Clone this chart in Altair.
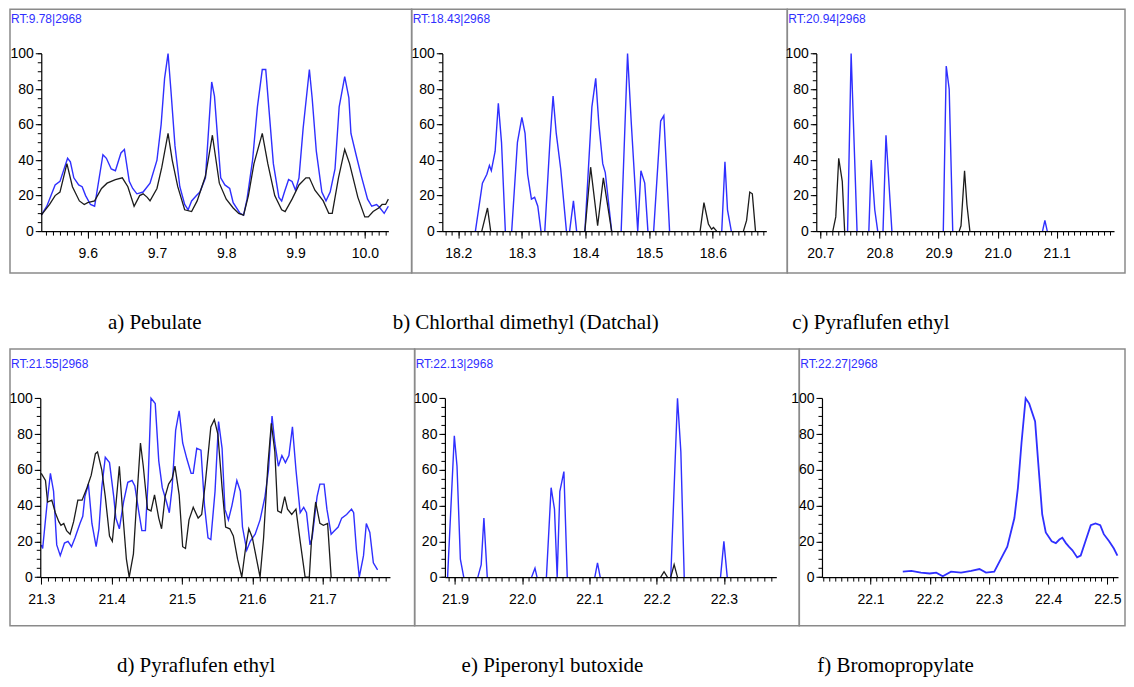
import math
import altair as alt
import pandas as pd

# ---------------- data (retention time, relative abundance %) ----------------
a_blue = [(9.533, 9), (9.541, 14), (9.553, 26), (9.560, 28), (9.571, 41), (9.575, 39), (9.580, 30),
          (9.587, 26), (9.592, 25), (9.597, 20), (9.604, 15), (9.610, 14), (9.622, 43), (9.627, 41),
          (9.634, 35), (9.640, 34), (9.648, 44), (9.653, 46), (9.660, 28), (9.665, 24), (9.671, 21),
          (9.680, 22), (9.690, 27), (9.700, 40), (9.706, 60), (9.711, 86), (9.716, 100), (9.720, 80),
          (9.726, 48), (9.733, 25), (9.740, 15), (9.745, 12), (9.750, 17), (9.757, 20), (9.762, 22),
          (9.770, 30), (9.775, 60), (9.779, 84), (9.783, 76), (9.788, 50), (9.792, 30), (9.798, 26),
          (9.805, 24), (9.810, 16), (9.820, 10), (9.825, 9), (9.830, 18), (9.838, 40), (9.845, 70),
          (9.852, 91), (9.857, 91), (9.862, 67), (9.868, 38), (9.876, 19), (9.880, 17), (9.884, 22),
          (9.890, 29), (9.895, 28), (9.900, 23), (9.905, 30), (9.911, 58), (9.920, 91), (9.924, 75),
          (9.930, 45), (9.938, 22), (9.944, 17), (9.950, 22), (9.957, 35), (9.963, 70), (9.971, 87),
          (9.977, 75), (9.980, 55), (9.988, 42), (9.995, 31), (10.004, 18), (10.010, 14), (10.017, 15),
          (10.022, 13), (10.028, 10), (10.034, 14)]
a_black = [(9.533, 9), (9.545, 15), (9.553, 20), (9.560, 22), (9.570, 38), (9.578, 25), (9.588, 17),
           (9.595, 15), (9.600, 16), (9.610, 17), (9.620, 24), (9.628, 27), (9.640, 29), (9.650, 30),
           (9.658, 25), (9.667, 14), (9.675, 20), (9.680, 21), (9.686, 19), (9.690, 17), (9.700, 24),
           (9.707, 36), (9.716, 55), (9.722, 40), (9.730, 25), (9.740, 12), (9.750, 11), (9.758, 17),
           (9.770, 31), (9.780, 54), (9.790, 27), (9.800, 18), (9.810, 13), (9.818, 10), (9.825, 9),
           (9.832, 20), (9.840, 38), (9.852, 55), (9.860, 38), (9.870, 20), (9.880, 12), (9.885, 11),
           (9.895, 18), (9.905, 26), (9.915, 30), (9.920, 30), (9.928, 23), (9.940, 17), (9.948, 10),
           (9.953, 10), (9.962, 30), (9.971, 46), (9.978, 38), (9.990, 19), (10.000, 8), (10.005, 8),
           (10.012, 11), (10.020, 13), (10.025, 15), (10.030, 15), (10.034, 18)]

b_blue = [
    [(18.227, 0), (18.238, 27), (18.245, 32), (18.249, 37), (18.252, 34), (18.258, 45), (18.263, 72), (18.268, 50), (18.274, 0)],
    [(18.284, 0), (18.293, 50), (18.300, 64), (18.305, 55), (18.309, 32), (18.315, 18), (18.320, 19), (18.325, 14), (18.330, 0)],
    [(18.336, 0), (18.344, 50), (18.349, 76), (18.354, 55), (18.361, 35), (18.370, 0)],
    [(18.375, 0), (18.381, 17), (18.386, 0)],
    [(18.399, 0), (18.410, 70), (18.416, 86), (18.421, 60), (18.427, 38), (18.431, 33), (18.441, 0)],
    [(18.456, 0), (18.466, 100), (18.472, 60), (18.482, 0), (18.487, 34), (18.493, 27), (18.498, 0)],
    [(18.507, 0), (18.518, 62), (18.523, 65), (18.532, 0)],
    [(18.614, 0), (18.619, 39), (18.623, 12), (18.629, 0)],
]
b_black = [
    [(18.237, 0), (18.246, 13), (18.251, 0)],
    [(18.399, 0), (18.408, 36), (18.419, 3), (18.428, 30), (18.441, 0)],
    [(18.580, 0), (18.586, 16), (18.593, 4), (18.598, 1), (18.601, 2), (18.606, 0)],
    [(18.648, 0), (18.653, 6), (18.658, 22), (18.662, 21), (18.667, 0)],
]

c_blue = [
    [(20.746, 0), (20.752, 100), (20.762, 0)],
    [(20.782, 0), (20.786, 40), (20.792, 12), (20.797, 0)],
    [(20.806, 0), (20.811, 54), (20.821, 0)],
    [(20.908, 0), (20.913, 93), (20.918, 80), (20.924, 0)],
    [(21.076, 0), (21.080, 6), (21.084, 0)],
]
c_black = [
    [(20.721, 0), (20.726, 8), (20.731, 41), (20.737, 28), (20.741, 0)],
    [(20.935, 0), (20.938, 3), (20.944, 34), (20.948, 15), (20.953, 0)],
]

d_blue = [(21.300, 18), (21.302, 16), (21.308, 40), (21.313, 58), (21.3175, 48), (21.322, 18), (21.327, 12),
          (21.333, 19), (21.338, 20), (21.343, 17), (21.348, 22), (21.355, 30), (21.359, 34), (21.362, 45),
          (21.367, 52), (21.372, 30), (21.378, 17), (21.382, 27), (21.386, 50), (21.391, 67), (21.397, 64),
          (21.403, 45), (21.406, 33), (21.411, 27), (21.417, 42), (21.423, 53), (21.429, 54), (21.433, 51),
          (21.438, 38), (21.443, 26), (21.448, 26), (21.452, 55), (21.456, 100), (21.462, 97), (21.467, 65),
          (21.472, 50), (21.478, 42), (21.482, 36), (21.486, 50), (21.491, 82), (21.496, 93), (21.501, 75),
          (21.507, 66), (21.513, 58), (21.516, 58), (21.521, 72), (21.527, 71), (21.532, 40), (21.537, 22),
          (21.541, 21), (21.547, 48), (21.552, 87), (21.557, 72), (21.561, 38), (21.566, 32), (21.571, 40),
          (21.578, 54), (21.583, 48), (21.586, 28), (21.592, 15), (21.597, 20), (21.604, 24), (21.611, 32),
          (21.618, 45), (21.623, 60), (21.628, 90), (21.632, 75), (21.637, 62), (21.642, 68), (21.647, 64),
          (21.652, 68), (21.657, 84), (21.662, 60), (21.668, 36), (21.673, 39), (21.677, 36), (21.682, 18),
          (21.685, 22), (21.692, 45), (21.696, 52), (21.702, 52), (21.706, 38), (21.712, 24), (21.717, 26),
          (21.722, 28), (21.727, 33), (21.734, 35), (21.741, 38), (21.744, 36), (21.748, 15), (21.752, 0),
          (21.758, 12), (21.762, 30), (21.767, 25), (21.772, 8), (21.778, 4)]
d_black = [(21.300, 58), (21.306, 54), (21.309, 42), (21.315, 43), (21.320, 36), (21.325, 31), (21.328, 29),
           (21.332, 30), (21.336, 26), (21.341, 24), (21.346, 31), (21.352, 43), (21.358, 43), (21.365, 50),
           (21.371, 57), (21.377, 69), (21.380, 70), (21.386, 60), (21.391, 45), (21.397, 23), (21.401, 20),
           (21.406, 40), (21.411, 62), (21.415, 40), (21.421, 10), (21.425, 0), (21.431, 13), (21.436, 45),
           (21.441, 75), (21.445, 62), (21.451, 38), (21.456, 37), (21.461, 46), (21.467, 33), (21.471, 27),
           (21.476, 45), (21.481, 52), (21.486, 55), (21.490, 62), (21.496, 46), (21.501, 17), (21.505, 16),
           (21.510, 32), (21.516, 39), (21.523, 33), (21.528, 35), (21.533, 52), (21.541, 84), (21.546, 88),
           (21.551, 80), (21.557, 50), (21.562, 28), (21.568, 27), (21.573, 23), (21.579, 10), (21.585, 0),
           (21.590, 15), (21.595, 27), (21.600, 22), (21.606, 10), (21.611, 0), (21.616, 22), (21.622, 62),
           (21.627, 86), (21.632, 70), (21.636, 37), (21.641, 36), (21.646, 45), (21.650, 38), (21.656, 35),
           (21.662, 38), (21.668, 20), (21.675, 0), (21.681, 0), (21.684, 20), (21.690, 42), (21.696, 30),
           (21.701, 29), (21.707, 30), (21.712, 0)]

e_blue = [
    [(21.889, 0), (21.899, 79), (21.903, 62), (21.908, 10), (21.913, 0)],
    [(21.934, 0), (21.939, 7), (21.943, 33), (21.948, 0)],
    [(22.014, 0), (22.019, 5), (22.022, 0)],
    [(22.036, 0), (22.043, 50), (22.048, 38), (22.052, 0), (22.056, 48), (22.062, 59), (22.067, 0)],
    [(22.108, 0), (22.112, 8), (22.116, 0)],
    [(22.221, 0), (22.231, 100), (22.236, 70), (22.241, 0)],
    [(22.295, 0), (22.300, 20), (22.305, 0)],
]
e_black = [
    [(22.206, 0), (22.211, 3), (22.216, 0)],
    [(22.221, 0), (22.226, 7), (22.231, 0)],
]

f_blue = [(22.1545, 3), (22.169, 3.5), (22.185, 2.5), (22.200, 2), (22.211, 2.5), (22.222, 0.5), (22.236, 3),
          (22.253, 2.5), (22.270, 3.5), (22.284, 4.5), (22.295, 2.5), (22.309, 3), (22.320, 10), (22.331, 17),
          (22.343, 33), (22.349, 50), (22.355, 75), (22.362, 100), (22.368, 97), (22.378, 87), (22.383, 65),
          (22.390, 35), (22.396, 25), (22.406, 20), (22.413, 19), (22.419, 21), (22.424, 22), (22.430, 19),
          (22.435, 17), (22.441, 15), (22.449, 11), (22.455, 12), (22.463, 20), (22.472, 29), (22.480, 30),
          (22.488, 29), (22.494, 24), (22.503, 20), (22.511, 16), (22.517, 12)]
f_black = []

rt_labels = ["RT:9.78|2968", "RT:18.43|2968", "RT:20.94|2968",
             "RT:21.55|2968", "RT:22.13|2968", "RT:22.27|2968"]
captions = ["a) Pebulate", "b) Chlorthal dimethyl (Datchal)", "c) Pyraflufen ethyl",
            "d) Pyraflufen ethyl", "e) Piperonyl butoxide", "f) Bromopropylate"]
x_domains = [[9.533, 10.034], [18.175, 18.684], [20.693, 21.197],
             [21.2986, 21.7956], [21.885, 22.378], [22.018, 22.518]]
x_major = [[9.6, 9.7, 9.8, 9.9, 10.0], [18.2, 18.3, 18.4, 18.5, 18.6], [20.7, 20.8, 20.9, 21.0, 21.1],
           [21.3, 21.4, 21.5, 21.6, 21.7], [21.9, 22.0, 22.1, 22.2, 22.3], [22.1, 22.2, 22.3, 22.4, 22.5]]
y_major = [0, 20, 40, 60, 80, 100]
y_minor_step = 5
x_minor_step = 0.01

# ---------------- styling ----------------
BLUE = "#2f2fff"
BLACK = "#1c1c1c"
AXIS_FONT = "Liberation Sans Narrow, Liberation Sans, Arial, sans-serif"
CAP_FONT = "Liberation Serif, Times New Roman, serif"
CAP_SIZE = 21


def to_df(series):
    segs = series if (series and isinstance(series[0], list)) else [series]
    rows = []
    for i, seg in enumerate(segs):
        for t, v in seg:
            rows.append({"t": t, "v": v, "seg": i})
    return pd.DataFrame(rows, columns=["t", "v", "seg"])


def minor_ticks(lo, hi, step):
    k0 = math.ceil(lo / step - 1e-6)
    k1 = math.floor(hi / step + 1e-6)
    return [round(k * step, 4) for k in range(k0, k1 + 1)]


COMMON = dict(title=None, grid=False, labelFont=AXIS_FONT, labelFontSize=14, labelColor="black",
              labelOverlap=False, labelFlush=False, domainColor="black", tickColor="black",
              domainWidth=1.2, tickWidth=1, zindex=1)


def panel(i, blue, black, width, height, xrange, ybase, ytop, cap_x, cap_y, rt_y, lw):
    dom = x_domains[i]
    xs = alt.Scale(domain=dom, range=xrange, nice=False, zero=False)
    ys = alt.Scale(domain=[0, 100], range=[ybase, ytop], nice=False, zero=False)
    x_off = -(height - ybase)
    y_off = -xrange[0]
    x_main = alt.Axis(orient="bottom", values=x_major[i], format=".1f", tickSize=7, labelPadding=8,
                      offset=x_off, **COMMON)
    y_main = alt.Axis(orient="left", values=y_major, format="d", tickSize=6, labelPadding=2,
                      offset=y_off, **COMMON)
    x_min = alt.Axis(orient="bottom", values=minor_ticks(dom[0], dom[1], x_minor_step), tickSize=4,
                     labels=False, domain=False, offset=x_off, title=None, grid=False,
                     tickColor="black", tickWidth=1, zindex=1)
    y_min = alt.Axis(orient="left", values=minor_ticks(0, 100, y_minor_step), tickSize=4,
                     labels=False, domain=False, offset=y_off, title=None, grid=False,
                     tickColor="black", tickWidth=1, zindex=1)
    blue_df = to_df(blue)
    layers = [
        alt.Chart(blue_df).mark_line(opacity=0).encode(
            x=alt.X("t:Q", scale=xs, axis=x_min),
            y=alt.Y("v:Q", scale=ys, axis=y_min),
            detail="seg:N"),
        alt.Chart(blue_df).mark_line(color=BLUE, strokeWidth=lw).encode(
            x=alt.X("t:Q", scale=xs, axis=x_main),
            y=alt.Y("v:Q", scale=ys, axis=y_main),
            detail="seg:N"),
    ]
    if black:
        layers.append(
            alt.Chart(to_df(black)).mark_line(color=BLACK, strokeWidth=1.3).encode(
                x=alt.X("t:Q", scale=xs, axis=None), y=alt.Y("v:Q", scale=ys, axis=None),
                detail="seg:N"))
    layers.append(
        alt.Chart(pd.DataFrame({"label": [rt_labels[i]]})).mark_text(
            align="left", baseline="alphabetic", font=AXIS_FONT, fontSize=12, color=BLUE
        ).encode(x=alt.value(1), y=alt.value(rt_y), text="label:N"))
    layers.append(
        alt.Chart(pd.DataFrame({"label": [captions[i]]})).mark_text(
            align="left", baseline="bottom", font=CAP_FONT, fontSize=CAP_SIZE, color="black"
        ).encode(x=alt.value(cap_x), y=alt.value(cap_y), text="label:N"))
    return alt.layer(*layers).resolve_axis(x="independent", y="independent").properties(
        width=width, height=height)


H1, H2 = 264, 277
# caption y given as bottom of the text box (alphabetic baseline sits ~4px above it)
pa = panel(0, a_blue, a_black, 402, H1, [31.3, 378.7], 222, 44.3, 98, 324, 13.7, 1.4)
pb = panel(1, b_blue, b_black, 376, H1, [30.7, 355], 222, 44.3, -19, 324, 13.7, 1.4)
pc = panel(2, c_blue, c_black, 338, H1, [29, 327], 222, 44.3, 5, 324, 13.7, 1.4)
pd_ = panel(3, d_blue, d_black, 405, H2, [30.3, 380.3], 228.3, 49.3, 107, 327, 18.7, 1.4)
pe = panel(4, e_blue, e_black, 385, H2, [30.3, 362], 228.3, 49.3, 47, 327, 18.7, 1.4)
pf = panel(5, f_blue, f_black, 326, H2, [22.7, 319], 228.3, 49.3, 18, 327, 18.7, 1.8)

row1 = alt.hconcat(pa, pb, pc, spacing=0, bounds="flush")
row2 = alt.hconcat(pd_, pe, pf, spacing=0, bounds="flush")

chart = alt.vconcat(row1, row2, spacing=14).properties(
    padding=0, background="white"
).configure_view(stroke="#8a8a8a", strokeWidth=1.5)

chart.save("out.html", embed_options={"renderer": "svg", "actions": False})
